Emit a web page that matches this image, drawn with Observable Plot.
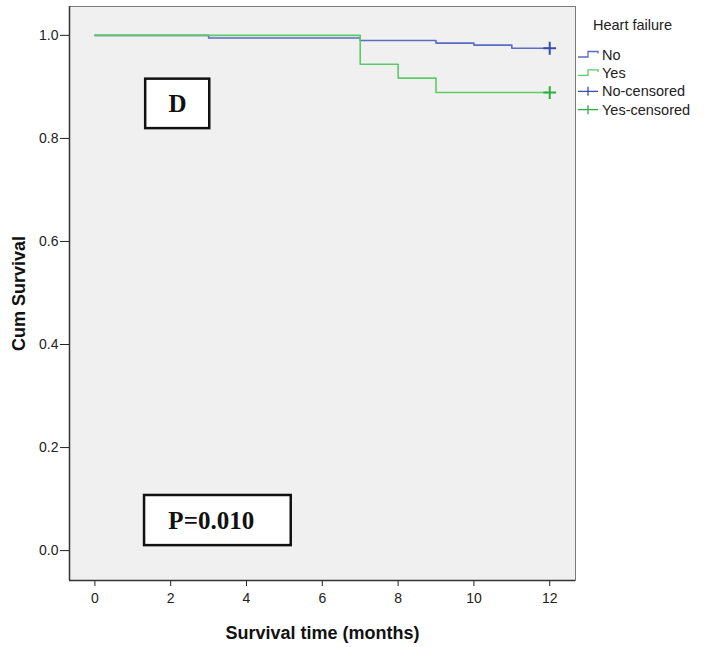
<!DOCTYPE html>
<html><head><meta charset="utf-8">
<script src="https://cdn.jsdelivr.net/npm/d3@7"></script>
<script src="https://cdn.jsdelivr.net/npm/@observablehq/plot@0.6"></script>
<style>
body{margin:0;background:#fff;}
#wrap{position:relative;width:709px;height:647px;}
#wrap svg.legend{position:absolute;left:0;top:0;pointer-events:none;}
#wrap svg g[aria-label*="axis"] text, #wrap svg g[aria-label*="axis"]{font-size:14px !important;}
</style></head><body><div id="wrap"></div>
<script>
// ---- data ----
const groups = ["No", "Yes"];
const lineColors = ["#5a6cc4", "#5cca6a"];
const censorColors = ["#3a4cb0", "#2cb03e"];
const timesNo = [0, 3, 7, 9, 10, 11, 12];
const survNo = [1.0, 0.995, 0.990, 0.985, 0.981, 0.975, 0.975];
const timesYes = [0, 7, 8, 9, 12];
const survYes = [1.0, 0.944, 0.917, 0.889, 0.889];
const censorTimes = [12, 12];
const censorSurv = [0.975, 0.889];
const xTicks = [0, 2, 4, 6, 8, 10, 12];
const yTicks = [0, 0.2, 0.4, 0.6, 0.8, 1.0];
const legendTitle = "Heart failure";
const legendLabels = ["No", "Yes", "No-censored", "Yes-censored"];
const xLabel = "Survival time (months)";
const yLabel = "Cum Survival";
const annoText = ["D", "P=0.010"];
const annoX1 = [1.34, 1.31];
const annoX2 = [3.03, 5.18];
const annoY1 = [0.819, 0.0097];
const annoY2 = [0.915, 0.107];
const annoTextX = [2.18, 3.07];
const annoTextY = [0.867, 0.058];

// ---- build tables ----
const curves = [
  ...timesNo.map((t, i) => ({group: groups[0], t, s: survNo[i], color: lineColors[0]})),
  ...timesYes.map((t, i) => ({group: groups[1], t, s: survYes[i], color: lineColors[1]}))
];
const censors = censorTimes.map((t, i) => ({t, s: censorSurv[i], color: censorColors[i]}));
const annos = annoText.map((label, i) => ({label, x1: annoX1[i], x2: annoX2[i], y1: annoY1[i], y2: annoY2[i], tx: annoTextX[i], ty: annoTextY[i]}));

const xDomain = [-0.67, 12.68];
const yDomain = [-0.058, 1.056];
const sans = "'Liberation Sans', Arial, sans-serif";
const serif = "'Liberation Serif', 'Times New Roman', serif";

const chart = Plot.plot({
  width: 709, height: 647,
  marginLeft: 69, marginRight: 134, marginTop: 6, marginBottom: 67,
  x: {domain: xDomain},
  y: {domain: yDomain},
  style: {fontFamily: sans, fontSize: "14px", color: "#222", background: "transparent"},
  marks: [
    Plot.frame({fill: "#f0f0f0", stroke: "#7a7a7a"}),
    Plot.axisX({ticks: xTicks, tickSize: 6, tickPadding: 7, label: null, fontSize: 14, fill: "#222"}),
    Plot.axisY({ticks: yTicks, tickSize: 9, tickPadding: 2, tickFormat: d3.format(".1f"), label: null, fontSize: 14, fill: "#222"}),
    Plot.rect(annos, {x1: "x1", x2: "x2", y1: "y1", y2: "y2", fill: "white", stroke: "#111", strokeWidth: 2.5}),
    Plot.text(annos, {x: "tx", y: "ty", text: "label", fontFamily: serif, fontWeight: "bold", fontSize: 25, fill: "#111"}),
    Plot.line(curves, {x: "t", y: "s", z: "group", stroke: "color", curve: "step-after", strokeWidth: 1.6}),
    Plot.dot(censors, {x: "t", y: "s", symbol: "plus", stroke: "color", r: 4.2, strokeWidth: 2}),
    Plot.ruleX([xDomain[0]], {stroke: "#333", strokeWidth: 1.5}),
    Plot.ruleY([yDomain[0]], {stroke: "#333", strokeWidth: 1.5}),
    Plot.text([xLabel], {frameAnchor: "bottom", dy: 53, lineAnchor: "middle", textAnchor: "middle", text: d => d, fontWeight: "bold", fontSize: 18, fill: "#111"}),
    Plot.text([yLabel], {frameAnchor: "left", dx: -50, rotate: -90, textAnchor: "middle", lineAnchor: "middle", text: d => d, fontWeight: "bold", fontSize: 18, fill: "#111"})
  ]
});
const wrap = document.getElementById("wrap");
wrap.appendChild(chart);

// ---- legend ----
const svg = d3.select(wrap).append("svg").attr("class", "legend").attr("width", 709).attr("height", 647)
  .style("font-family", sans);
svg.append("text").attr("x", 593).attr("y", 30).attr("font-size", 14.5).attr("fill", "#222").text(legendTitle);
const legendColors = [lineColors[0], lineColors[1], censorColors[0], censorColors[1]];
legendLabels.forEach((lab, i) => {
  const base = 59.5 + i * 18.4;
  const cy = base - 5;
  const g = svg.append("g");
  if (i < 2) {
    g.append("path").attr("d", `M578,${cy + 2.5}H588V${cy - 3}H598V${cy - 1}`)
      .attr("fill", "none").attr("stroke", legendColors[i]).attr("stroke-width", 1.3);
  } else {
    g.append("path").attr("d", `M578,${cy}H598M588,${cy - 4.5}V${cy + 4.5}`)
      .attr("fill", "none").attr("stroke", legendColors[i]).attr("stroke-width", 1.3);
  }
  g.append("text").attr("x", 602).attr("y", base).attr("font-size", 14.5).attr("fill", "#222").text(lab);
});
</script></body></html>
